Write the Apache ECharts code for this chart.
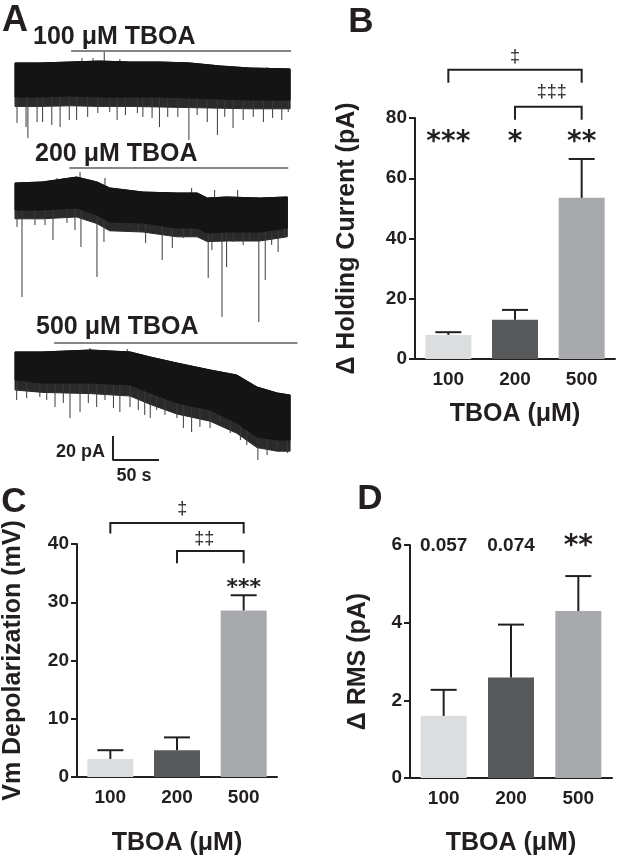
<!DOCTYPE html>
<html><head><meta charset="utf-8">
<script src="https://cdn.jsdelivr.net/npm/echarts@6/dist/echarts.min.js"></script>
<style>html,body{margin:0;padding:0;background:#fff}#c{width:618px;height:857px}</style>
</head><body><div id="c"></div>
<script>
// ---------- Bar panels data ----------
const categories = ['100', '200', '500'];
const holdingMean = [8.0, 13.0, 53.5];
const holdingSem = [0.9, 3.3, 12.9];
const vmMean = [3.1, 4.6, 28.6];
const vmSem = [1.5, 2.2, 2.6];
const rmsMean = [1.6, 2.59, 4.3];
const rmsSem = [0.67, 1.36, 0.9];
const barColors = ['#dcddde', '#58595b', '#a7a9ac'];

// annotations: x = category position (fractional allowed), y = value
const starsB = ['***', '*', '**'];
const starsBX = [0, 1, 2];
const starsBY = [73.8, 73.8, 73.8];
const daggerB = ['‡', '‡‡‡'];
const daggerBX = [1, 1.55];
const daggerBY = [100.3, 88.7];
const bracketsB = [[0, 2, 96.0, 91.7], [1, 2, 83.7, 79.4]];

const starsC = ['***'];
const starsCX = [2];
const starsCY = [33.2];
const daggerC = ['‡', '‡‡'];
const daggerCX = [1.08, 1.41];
const daggerCY = [46, 40.8];
const bracketsC = [[0, 2, 43.6, 41.8], [1, 2, 38.8, 36.7]];

const textD = ['0.057', '0.074'];
const textDX = [0, 1];
const textDY = [5.97, 5.97];
const starsD = ['**'];
const starsDX = [2];
const starsDY = [6.1];

// ---------- Trace data (time s, current pA) ----------
const trace1T = [0, 27, 60, 92, 125, 158, 190, 223, 255, 299];
const trace1Top = [14.2, 14.2, 15, 15.8, 15, 15, 14.2, 11.7, 10, 9.2];
const trace1Bottom = [-14.2, -14.2, -13.3, -14.2, -14.2, -14.2, -15, -15.8, -16.7, -16.7];
const trace1Fringe = [-22, -22, -21.5, -22, -22, -22.5, -23, -23.5, -24, -24];
const trace1Spikes = [[2.2,-35.8],[12,-39.2],[14,-48.3],[24,-35],[30,-35],[40,-37.5],[49,-39.2],[59,-33.3],[67,-33.3],[79,-30.8],[90,-27.5],[103,-26.7],[111,-33.3],[120,-29.2],[133,-27.5],[139,-30.8],[149,-31.7],[157,-39.2],[166,-30.8],[177,-30.8],[189,-50],[198,-29.2],[209,-35],[220,-45.8],[228,-30.8],[237,-40],[248,-33.3],[259,-30.8],[270,-35],[280,-31.7],[290,-33.3],[297,-26.7]];
const trace1Up = [[97, 23.3], [72.8, 18.3], [84.8, 18.3], [114, 17.5], [274, 10.8]];

const trace2T = [0, 30, 67, 89, 103, 139, 176, 198, 209, 230, 266, 296];
const trace2Top = [10.8, 11.7, 15.8, 11.7, 6.7, 3.3, 2.5, 2.5, -1.7, -0.8, -1.7, -0.8];
const trace2Bottom = [-11.7, -11.7, -10, -15.8, -21.7, -22.5, -26.7, -26.7, -30.8, -30, -30, -26.7];
const trace2Fringe = [-19, -19, -17.5, -23, -29, -30, -34, -34, -38, -37.5, -37.5, -34];
const trace2Spikes = [[2.2,-25.8],[7.6,-84.2],[21.7,-24.2],[32.6,-24.2],[41.3,-36.7],[56.5,-22.5],[65.2,-28.3],[71.7,-42.5],[89.1,-67.5],[96.7,-38.3],[112,-24.2],[134,-30],[142,-39.2],[160,-53.3],[171,-43.3],[183,-35],[192,-32.5],[210,-68.3],[214,-45],[225,-100.8],[230,-59.2],[237,-38.3],[248,-40.8],[255,-36.7],[265,-105],[272,-70],[279,-40.8],[286,-46.7],[293,-34.2]];
const trace2Up = [[70.7, 20], [45.7, 15], [97.8, 15], [192, 6.7], [217, 5], [242, 5]];

const trace3T = [0, 30, 82, 125, 147, 176, 212, 241, 263, 285, 299];
const trace3Top = [11.7, 11.7, 13.3, 11.7, 7.5, 2.5, -3.3, -7.5, -17.5, -22.5, -24.2];
const trace3Bottom = [-11.7, -14.2, -14.2, -15.8, -22.5, -30.8, -36.7, -47.5, -59.2, -61.7, -61.7];
const trace3Fringe = [-20, -22, -23, -25, -32, -40, -46, -56, -68, -71, -71];
const trace3Spikes = [[1.8,-28.3],[12.7,-26.7],[27,-25.8],[34.5,-28.3],[43.5,-34.2],[52.5,-30.8],[59.8,-43.3],[70.7,-38.3],[79.7,-30.8],[88.8,-34.2],[97.8,-28.3],[107,-35],[114,-38.3],[125,-34.2],[134,-36.7],[141,-40.8],[147,-43.3],[154,-36.7],[163,-40.8],[176,-43.3],[183,-51.7],[192,-55],[201,-50.8],[212,-51.7],[223,-47.5],[234,-55.8],[245,-61.7],[252,-65.8],[264,-78.3],[274,-74.2],[285,-70],[296,-72.5]];
const trace3Up = [[81.5, 15], [122, 14.2]];

// drug application bars: [start s, end s, level pA]
const tboaBars = [[61, 300, 24.2], [59, 297, 23.3], [42.5, 307, 19.2]];
const traceLabels = ['100 μM TBOA', '200 μM TBOA', '500 μM TBOA'];
// scale bar: 20 pA, 50 s
const scaleBarT = 106.5, scaleBarV = -78.3, scaleBarPA = 20, scaleBarS = 50;

const INK = '#231f20';
const FONT = '"Liberation Sans", Arial, Helvetica, sans-serif';
const STARFONT = '"DejaVu Sans", sans-serif';

function interp(ts, vs, t) {
  if (t <= ts[0]) return vs[0];
  for (let i = 1; i < ts.length; i++) {
    if (t <= ts[i]) { const f = (t - ts[i-1]) / (ts[i] - ts[i-1]); return vs[i-1] + f * (vs[i] - vs[i-1]); }
  }
  return vs[vs.length - 1];
}
// pixel position of a fractional category position
function catCoord(api, x, v) {
  const i0 = Math.floor(x), f = x - i0;
  const a = api.coord([i0, v]);
  if (f === 0) return a;
  const b = api.coord([i0 + 1, v]);
  return [a[0] + f * (b[0] - a[0]), a[1]];
}

const chart = echarts.init(document.getElementById('c'), null, {renderer: 'canvas'});

// grids: 0..2 traces, 3 B, 4 C, 5 D
const grids = [
  {left: 15, top: 44, width: 285.2, height: 108},
  {left: 15, top: 166, width: 285.2, height: 162},
  {left: 15, top: 339, width: 285.2, height: 135},
  {left: 415, top: 118, width: 200, height: 241},
  {left: 77, top: 544, width: 200, height: 242},
  {left: 410, top: 545, width: 202, height: 241}
];
const traceY = [[-60, 30], [-110, 25], [-90, 22.5]];

const xAxes = [], yAxes = [], series = [];
for (let g = 0; g < 3; g++) {
  xAxes.push({gridIndex: g, type: 'value', min: 0, max: 310, show: false});
  yAxes.push({gridIndex: g, type: 'value', min: traceY[g][0], max: traceY[g][1], show: false});
}
const axisLabelStyle = {color: INK, fontFamily: FONT, fontWeight: 'bold', fontSize: 19};
function barAxes(g, yMin, yMax, yInt, yName, yGap, xGap) {
  xAxes.push({gridIndex: g, type: 'category', data: categories,
    axisLine: {lineStyle: {color: INK, width: 2}}, axisTick: {show: false},
    axisLabel: Object.assign({margin: 11}, axisLabelStyle),
    name: 'TBOA (μM)', nameLocation: 'middle', nameGap: xGap,
    nameTextStyle: {color: INK, fontFamily: FONT, fontWeight: 'bold', fontSize: 25}});
  yAxes.push({gridIndex: g, type: 'value', min: yMin, max: yMax, interval: yInt,
    axisLine: {show: true, lineStyle: {color: INK, width: 2}},
    axisTick: {show: true, length: 6, lineStyle: {color: INK, width: 2}},
    axisLabel: Object.assign({margin: 8}, axisLabelStyle),
    splitLine: {show: false},
    name: yName, nameLocation: 'middle', nameGap: yGap, nameRotate: 90,
    nameTextStyle: {color: INK, fontFamily: FONT, fontWeight: 'bold', fontSize: 25}});
}
barAxes(3, 0, 80, 20, 'Δ Holding Current (pA)', 55, 43);
barAxes(4, 0, 40, 10, 'Vm Depolarization (mV)', 51, 54);
barAxes(5, 0, 6, 2, 'Δ RMS (pA)', 39, 53);

// ----- traces -----
const traces = [
  {T: trace1T, top: trace1Top, bot: trace1Bottom, fr: trace1Fringe, sp: trace1Spikes, up: trace1Up},
  {T: trace2T, top: trace2Top, bot: trace2Bottom, fr: trace2Fringe, sp: trace2Spikes, up: trace2Up},
  {T: trace3T, top: trace3Top, bot: trace3Bottom, fr: trace3Fringe, sp: trace3Spikes, up: trace3Up}
];
traces.forEach((tr, g) => {
  [['fr', '#2a2a2a'], ['bot', '#141414']].forEach(([key, col]) => {
    series.push({type: 'custom', xAxisIndex: g, yAxisIndex: g, silent: true, z: key === 'bot' ? 3 : 2,
      data: [[0]],
      renderItem: function (params, api) {
        const pts = [];
        tr.T.forEach((t, i) => pts.push(api.coord([t, tr.top[i]])));
        for (let i = tr.T.length - 1; i >= 0; i--) pts.push(api.coord([tr.T[i], tr[key][i]]));
        return {type: 'polygon', shape: {points: pts}, style: {fill: col, stroke: col, lineWidth: 1}};
      }});
  });
  series.push({type: 'custom', xAxisIndex: g, yAxisIndex: g, silent: true, z: 2,
    data: tr.sp,
    renderItem: function (params, api) {
      const t = api.value(0), v = api.value(1);
      const b = interp(tr.T, tr.bot, t);
      const p0 = api.coord([t, b]), p1 = api.coord([t, v]);
      return {type: 'line', shape: {x1: p0[0], y1: p0[1], x2: p1[0], y2: p1[1]}, style: {stroke: '#3a3a3a', lineWidth: 1}};
    }});
  series.push({type: 'custom', xAxisIndex: g, yAxisIndex: g, silent: true, z: 2,
    data: tr.up,
    renderItem: function (params, api) {
      const t = api.value(0), v = api.value(1);
      const b = interp(tr.T, tr.top, t);
      const p0 = api.coord([t, b]), p1 = api.coord([t, v]);
      return {type: 'line', shape: {x1: p0[0], y1: p0[1], x2: p1[0], y2: p1[1]}, style: {stroke: '#3a3a3a', lineWidth: 1}};
    }});
  const tb = tboaBars[g];
  series.push({type: 'line', xAxisIndex: g, yAxisIndex: g, silent: true, symbol: 'none', z: 4,
    data: [[tb[0], tb[2]], [tb[1], tb[2]]], lineStyle: {color: '#858585', width: 2}});
});
series.push({type: 'line', xAxisIndex: 2, yAxisIndex: 2, silent: true, symbol: 'none', z: 5,
  data: [[scaleBarT, scaleBarV + scaleBarPA], [scaleBarT, scaleBarV], [scaleBarT + scaleBarS, scaleBarV]],
  lineStyle: {color: INK, width: 2}});

// ----- bar panels -----
function barPanel(g, means, sems) {
  series.push({type: 'bar', xAxisIndex: g, yAxisIndex: g, barWidth: 46, silent: true, z: 2,
    data: means.map((m, i) => ({value: m, itemStyle: {color: barColors[i]}}))});
  series.push({type: 'custom', xAxisIndex: g, yAxisIndex: g, silent: true, z: 3,
    data: means.map((m, i) => [i, m, m + sems[i]]),
    renderItem: function (params, api) {
      const p0 = api.coord([api.value(0), api.value(1)]);
      const p1 = api.coord([api.value(0), api.value(2)]);
      const hw = 13;
      return {type: 'group', children: [
        {type: 'line', shape: {x1: p0[0], y1: p0[1], x2: p1[0], y2: p1[1]}, style: {stroke: INK, lineWidth: 2}},
        {type: 'line', shape: {x1: p1[0] - hw, y1: p1[1], x2: p1[0] + hw, y2: p1[1]}, style: {stroke: INK, lineWidth: 2}}
      ]};
    }});
}
barPanel(3, holdingMean, holdingSem);
barPanel(4, vmMean, vmSem);
barPanel(5, rmsMean, rmsSem);

function brackets(g, list) {
  series.push({type: 'custom', xAxisIndex: g, yAxisIndex: g, silent: true, z: 4, clip: false,
    data: list,
    renderItem: function (params, api) {
      const a = api.coord([api.value(0), api.value(3)]);
      const b = api.coord([api.value(0), api.value(2)]);
      const c = api.coord([api.value(1), api.value(2)]);
      const d = api.coord([api.value(1), api.value(3)]);
      return {type: 'polyline', shape: {points: [a, b, c, d]}, style: {stroke: INK, lineWidth: 2, fill: null}};
    }});
}
function texts(g, labels, xs, ys, font, dy) {
  series.push({type: 'custom', xAxisIndex: g, yAxisIndex: g, silent: true, z: 5, clip: false,
    data: labels.map((l, i) => [i]),
    renderItem: function (params, api) {
      const i = params.dataIndex;
      const p = catCoord(api, xs[i], ys[i]);
      return {type: 'text', x: p[0], y: p[1] + dy,
        style: {text: labels[i], font: font, fill: INK, align: 'center', verticalAlign: 'middle'}};
    }});
}
const daggerFont = '18px ' + FONT;
brackets(3, bracketsB);
texts(3, starsB, starsBX, starsBY, 'bold 28px ' + STARFONT, 6);
texts(3, daggerB, daggerBX, daggerBY, daggerFont, 0);
brackets(4, bracketsC);
texts(4, starsC, starsCX, starsCY, 'bold 22px ' + STARFONT, 5);
texts(4, daggerC, daggerCX, daggerCY, daggerFont, 0);
texts(5, textD, textDX, textDY, 'bold 19px ' + FONT, 0);
texts(5, starsD, starsDX, starsDY, 'bold 28px ' + STARFONT, 6);

// ----- free text: panel letters, trace labels, scale bar labels -----
function gtext(text, x, y, size, align) {
  return {type: 'text', x: x, y: y, z: 10, silent: true,
    style: {text: text, font: 'bold ' + size + 'px ' + FONT, fill: INK, align: align || 'center', verticalAlign: 'middle'}};
}
const graphic = [
  gtext('A', 15, 21, 36), gtext('B', 361, 22, 35), gtext('C', 14, 502, 35), gtext('D', 370, 499, 35),
  gtext(traceLabels[0], 33, 37, 25, 'left'),
  gtext(traceLabels[1], 35, 154, 25, 'left'),
  gtext(traceLabels[2], 36, 327, 25, 'left'),
  gtext('20 pA', 105, 452, 18, 'right'),
  gtext('50 s', 134, 476, 18, 'center')
];

chart.setOption({
  animation: false,
  backgroundColor: '#ffffff',
  grid: grids,
  xAxis: xAxes,
  yAxis: yAxes,
  series: series,
  graphic: graphic
});
</script>
</body></html>
